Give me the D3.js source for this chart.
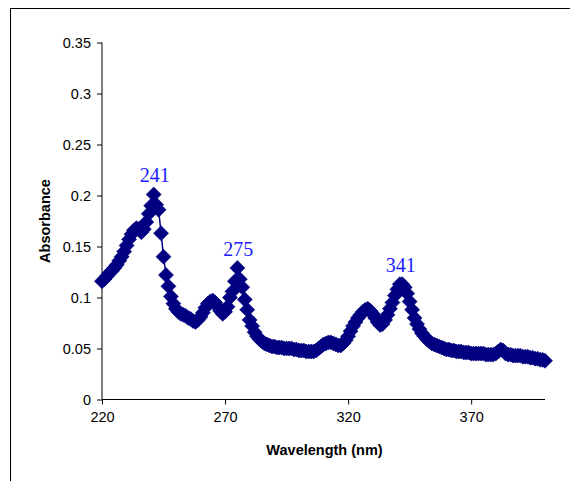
<!DOCTYPE html>
<html>
<head>
<meta charset="utf-8">
<script src="https://cdn.jsdelivr.net/npm/d3@7"></script>
<style>
  html, body { margin: 0; padding: 0; background: #fff; }
  svg { display: block; }
</style>
</head>
<body>
<svg id="chart" width="570" height="481"></svg>
<script>
// ---- data ----
const wavelengthStart = 220; // nm, 1 nm step
const absorbance = [
  0.116, 0.118, 0.121, 0.124, 0.126, 0.129, 0.132, 0.136, 0.140, 0.145, // 220-229
  0.151, 0.157, 0.162, 0.166, 0.168, 0.167, 0.164, 0.167, 0.174, 0.182, // 230-239
  0.190, 0.201, 0.191, 0.186, 0.163, 0.140, 0.122, 0.111, 0.101, 0.094, // 240-249
  0.089, 0.086, 0.084, 0.083, 0.082, 0.080, 0.079, 0.077, 0.076, 0.078, // 250-259
  0.081, 0.085, 0.090, 0.094, 0.096, 0.097, 0.095, 0.091, 0.087, 0.084, // 260-269
  0.086, 0.091, 0.100, 0.106, 0.116, 0.129, 0.118, 0.110, 0.098, 0.088, // 270-279
  0.078, 0.072, 0.066, 0.062, 0.059, 0.057, 0.055, 0.054, 0.053, 0.052, // 280-289
  0.052, 0.051, 0.051, 0.051, 0.050, 0.050, 0.050, 0.050, 0.049, 0.049, // 290-299
  0.048, 0.048, 0.048, 0.047, 0.047, 0.047, 0.047, 0.048, 0.050, 0.052, // 300-309
  0.054, 0.055, 0.056, 0.056, 0.055, 0.054, 0.053, 0.053, 0.055, 0.058, // 310-319
  0.062, 0.067, 0.072, 0.076, 0.080, 0.083, 0.086, 0.088, 0.089, 0.087, // 320-329
  0.084, 0.080, 0.076, 0.073, 0.074, 0.078, 0.083, 0.089, 0.095, 0.102, // 330-339
  0.108, 0.113, 0.113, 0.110, 0.104, 0.096, 0.088, 0.080, 0.074, 0.069, // 340-349
  0.065, 0.062, 0.059, 0.057, 0.055, 0.054, 0.053, 0.052, 0.051, 0.050, // 350-359
  0.049, 0.049, 0.048, 0.048, 0.047, 0.047, 0.047, 0.046, 0.046, 0.046, // 360-369
  0.045, 0.045, 0.045, 0.045, 0.045, 0.045, 0.044, 0.044, 0.044, 0.044, // 370-379
  0.045, 0.047, 0.049, 0.048, 0.045, 0.044, 0.044, 0.043, 0.043, 0.043, // 380-389
  0.043, 0.042, 0.042, 0.042, 0.041, 0.041, 0.040, 0.040, 0.039, 0.039, // 390-399
  0.038                                                                  // 400
];
const xTicks = [220, 270, 320, 370];
const yTicks = [0, 0.05, 0.1, 0.15, 0.2, 0.25, 0.3, 0.35];
const peakLabels = [241, 275, 341];
const xTitle = "Wavelength (nm)";
const yTitle = "Absorbance";

// ---- build ----
const data = absorbance.map((v, i) => ({ wl: wavelengthStart + i, a: v }));

const svg = d3.select("#chart");
const plot = { left: 102, right: 545, top: 42.5, bottom: 399.5 };

// outer chart-area border
svg.append("rect")
  .attr("x", 10.5).attr("y", 8.5)
  .attr("width", 600).attr("height", 520)
  .attr("fill", "#fff").attr("stroke", "#000").attr("stroke-width", 1);

const x = d3.scaleLinear().domain([220, 400]).range([plot.left, plot.right]);
const y = d3.scaleLinear().domain([0, 0.35]).range([plot.bottom, plot.top]);

const font = "Liberation Sans, Arial, sans-serif";

// x axis
const xAxis = d3.axisBottom(x).tickValues(xTicks).tickSize(5).tickPadding(7)
  .tickFormat(d3.format("d"));
const gx = svg.append("g").attr("transform", `translate(0,${plot.bottom})`).call(xAxis);
gx.select(".domain").attr("d", `M${plot.left},0H${plot.right}`).attr("stroke", "#000");
gx.selectAll(".tick line").attr("stroke", "#000");
gx.selectAll(".tick text").attr("font-family", font).attr("font-size", 14.5).attr("fill", "#000");

// y axis
const yAxis = d3.axisLeft(y).tickValues(yTicks).tickSize(5).tickPadding(6)
  .tickFormat(d => d === 0 ? "0" : String(+d.toFixed(2)));
const gy = svg.append("g").attr("transform", `translate(${plot.left},0)`).call(yAxis);
gy.select(".domain").attr("d", `M0,${plot.bottom}V${plot.top}`).attr("stroke", "#000");
gy.selectAll(".tick line").attr("stroke", "#000");
gy.selectAll(".tick text").attr("font-family", font).attr("font-size", 14.5).attr("fill", "#000");

// axis titles
svg.append("text")
  .attr("x", (plot.left + plot.right) / 2 + 1).attr("y", 455)
  .attr("text-anchor", "middle")
  .attr("font-family", font).attr("font-size", 14.5).attr("font-weight", "bold")
  .text(xTitle);
svg.append("text")
  .attr("transform", `translate(50,${(plot.top + plot.bottom) / 2}) rotate(-90)`)
  .attr("text-anchor", "middle")
  .attr("font-family", font).attr("font-size", 14.5).attr("font-weight", "bold")
  .text(yTitle);

// series line
const navy = "#000080";
svg.append("path")
  .datum(data)
  .attr("fill", "none").attr("stroke", navy).attr("stroke-width", 1.5)
  .attr("d", d3.line().x(d => x(d.wl)).y(d => y(d.a)));

// diamond markers
const diamond = d3.symbol().type(d3.symbolSquare).size(112);
svg.append("g").selectAll("path")
  .data(data)
  .join("path")
  .attr("d", diamond)
  .attr("transform", d => `translate(${x(d.wl)},${y(d.a)}) rotate(45)`)
  .attr("fill", navy).attr("stroke", navy).attr("stroke-width", 0.6);

// peak labels
svg.append("g").selectAll("text")
  .data(peakLabels)
  .join("text")
  .attr("x", d => x(d) + 1)
  .attr("y", d => y(data.find(p => p.wl === d).a) - 12)
  .attr("text-anchor", "middle")
  .attr("font-family", "Liberation Serif, Times New Roman, serif")
  .attr("font-size", 20)
  .attr("fill", "#1a1aff")
  .text(d => d);
</script>
</body>
</html>
